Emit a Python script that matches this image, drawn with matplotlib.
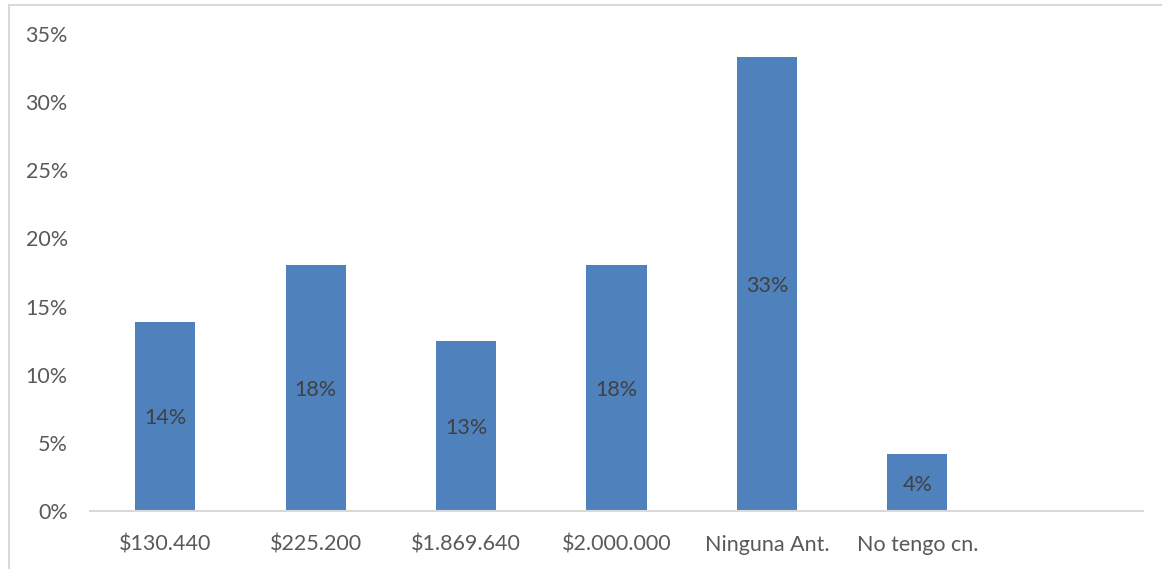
import matplotlib
matplotlib.use("Agg")
import matplotlib.pyplot as plt
from matplotlib.lines import Line2D

plt.rcParams['font.family'] = ['Lato', 'DejaVu Sans']

categorias = ["$130.440", "$225.200", "$1.869.640", "$2.000.000", "Ninguna Ant.", "No tengo cn."]
valores = [0.1389, 0.1806, 0.1250, 0.1806, 0.3333, 0.0417]
etiquetas = ["14%", "18%", "13%", "18%", "33%", "4%"]

fig = plt.figure(figsize=(11.62, 5.69), dpi=100)
ax = fig.add_axes([0.0775, 0.1019, 0.9061, 0.8383])

x = list(range(len(categorias)))
bars = ax.bar(x, valores, width=0.4, color="#4F81BD", zorder=2)

for b, t in zip(bars, etiquetas):
    ax.text(b.get_x() + b.get_width() / 2, b.get_height() / 2, t,
            ha="center", va="center_baseline", fontsize=15.5, color="#404040")

# eje x con un hueco vacio al final
ax.set_xlim(-0.5, len(categorias) + 0.5)
ax.set_ylim(0, 0.35)
ax.set_xticks(x)
ax.set_xticklabels(categorias, fontsize=15.5, color="#595959")
ax.set_yticks([i * 0.05 for i in range(8)])
ax.set_yticklabels([f"{i * 5}%" for i in range(8)], fontsize=15.5, color="#595959")
ax.tick_params(length=0)
ax.tick_params(axis="x", pad=17)
ax.tick_params(axis="y", pad=16)

for s in ["top", "right", "left"]:
    ax.spines[s].set_visible(False)
ax.spines["bottom"].set_color("#D9D9D9")
ax.spines["bottom"].set_linewidth(1.5)

# marco del grafico (solo izquierda y arriba visibles)
fig.add_artist(Line2D([9 / 1162, 9 / 1162], [0, 1 - 5 / 569], transform=fig.transFigure,
                      color="#D9D9D9", lw=1.5))
fig.add_artist(Line2D([9 / 1162, 1], [1 - 5 / 569, 1 - 5 / 569], transform=fig.transFigure,
                      color="#D9D9D9", lw=1.5))

fig.savefig("out.png", dpi=100)
